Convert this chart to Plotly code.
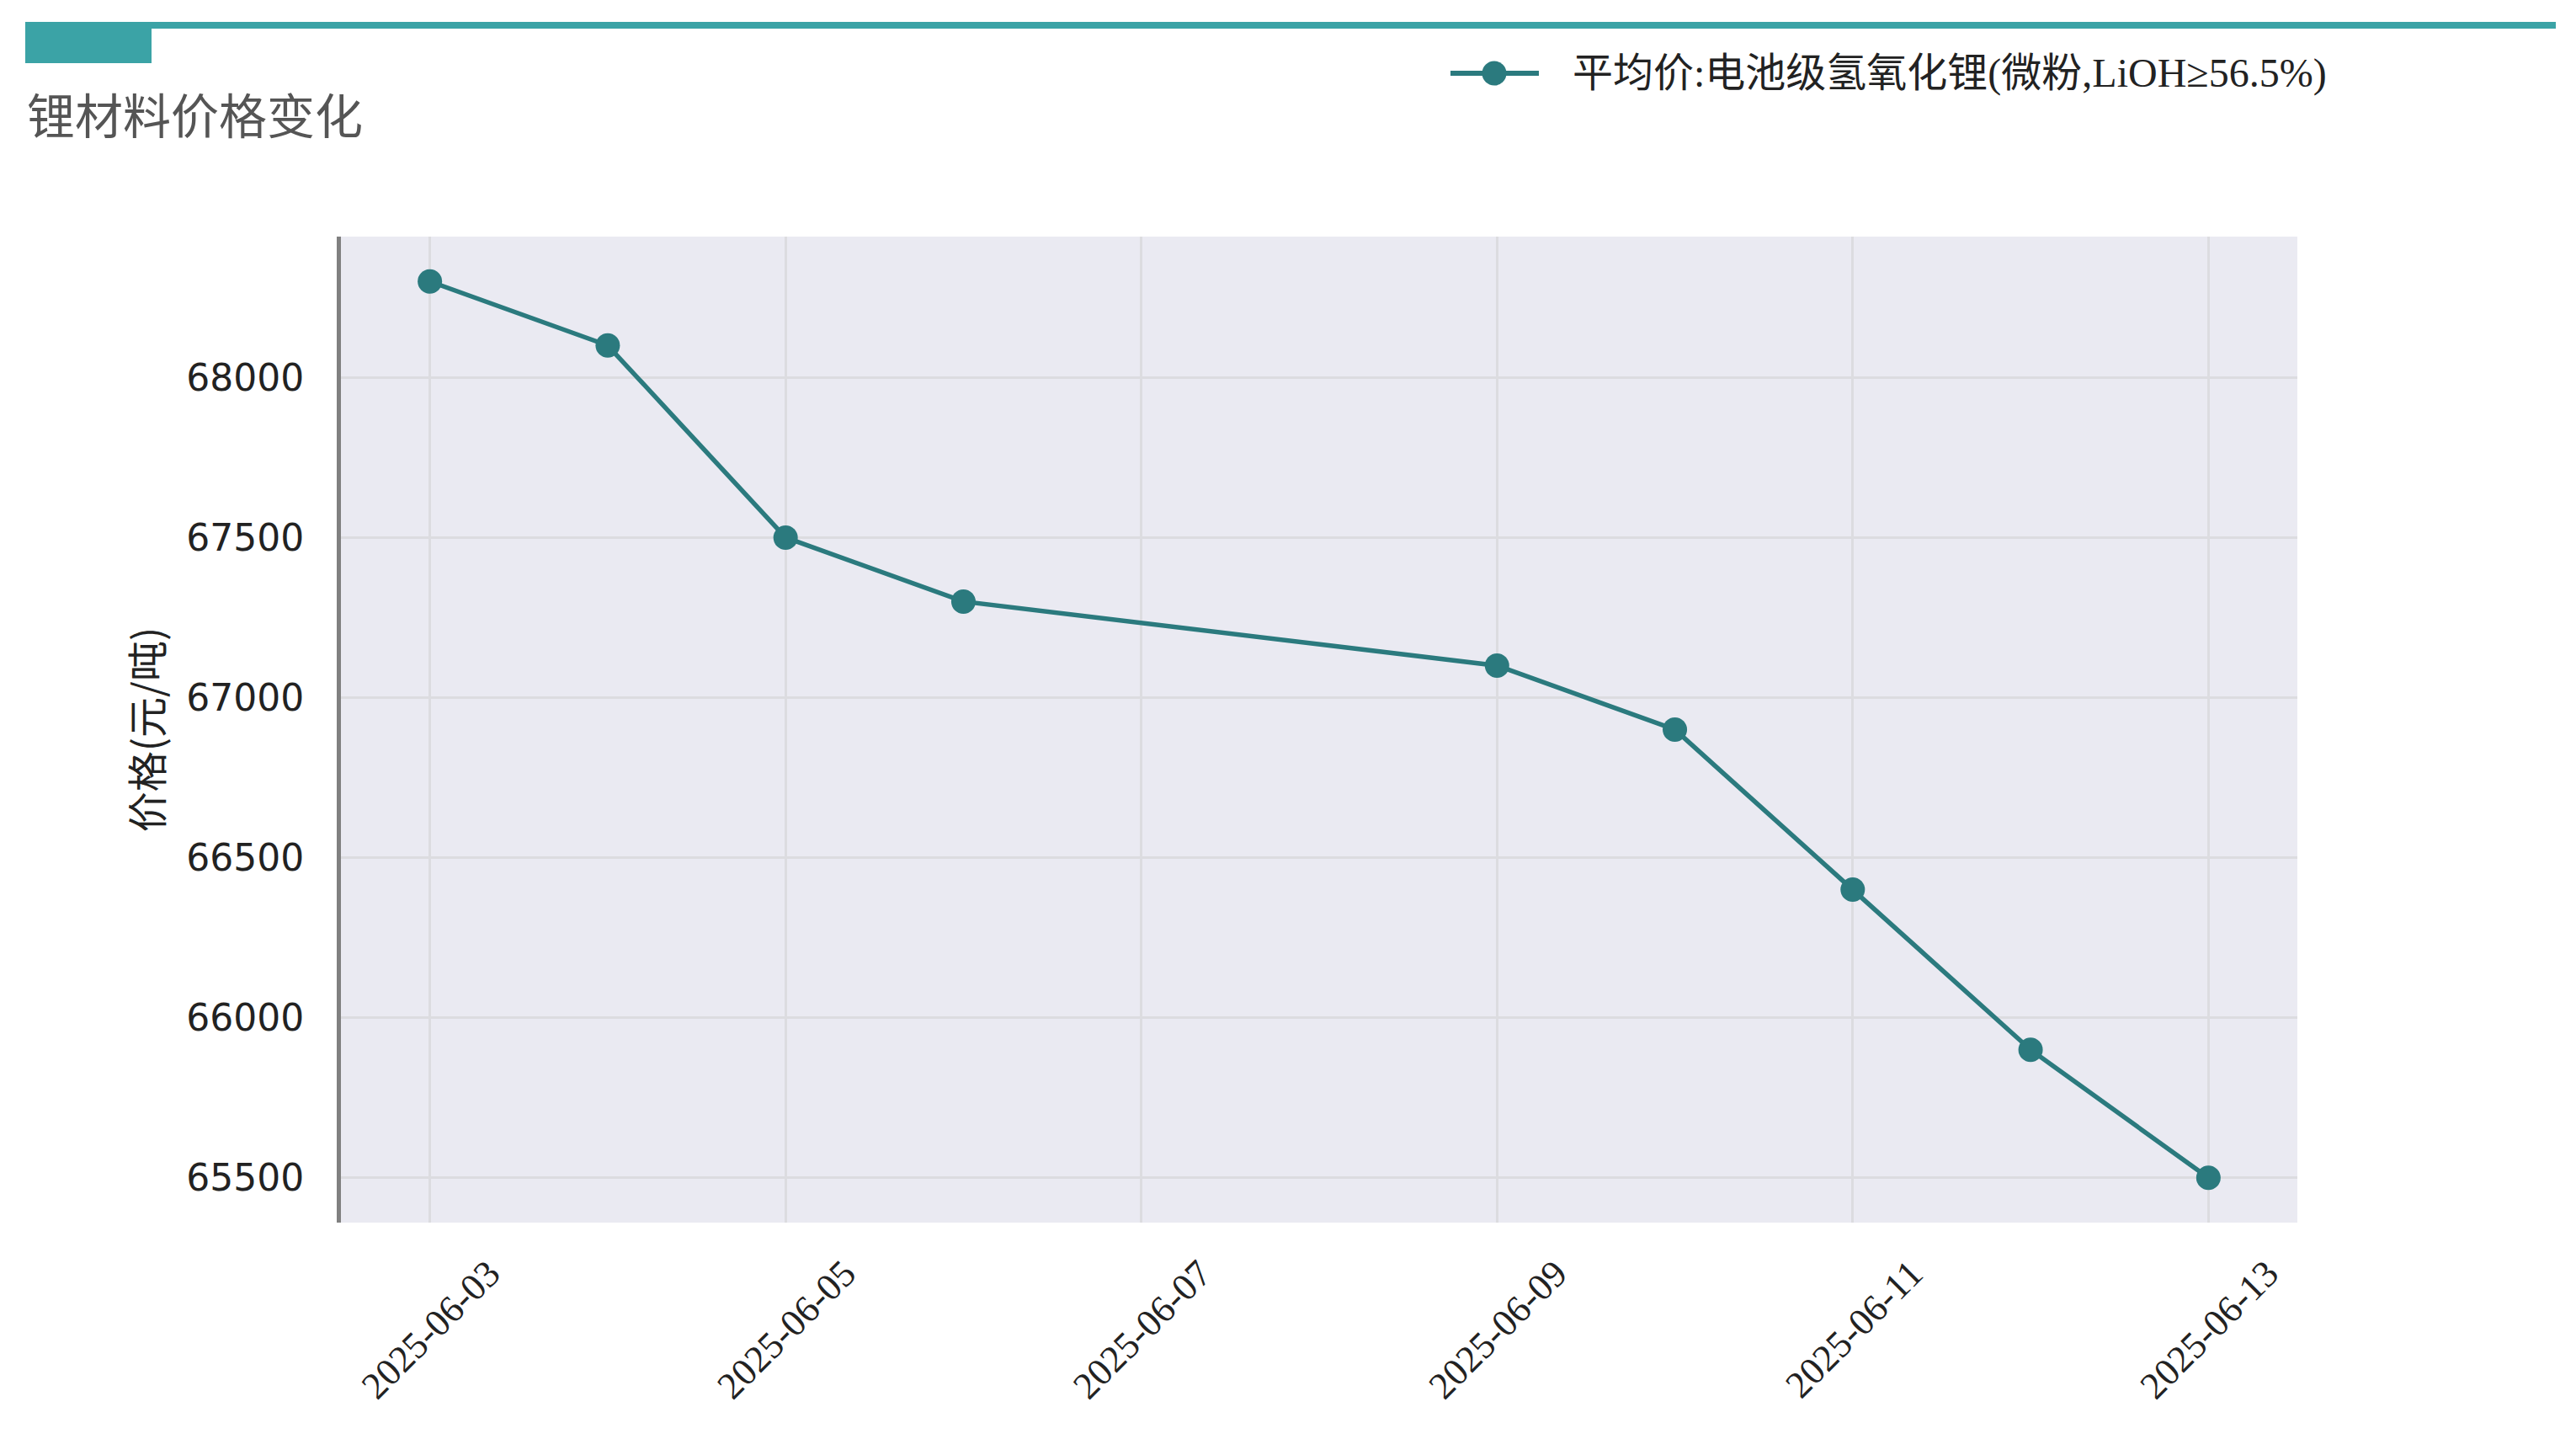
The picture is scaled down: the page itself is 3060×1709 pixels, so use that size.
import plotly.graph_objects as go

dates = ["2025-06-03", "2025-06-04", "2025-06-05", "2025-06-06", "2025-06-09",
         "2025-06-10", "2025-06-11", "2025-06-12", "2025-06-13"]
prices = [68300, 68100, 67500, 67300, 67100, 66900, 66400, 65900, 65500]
series_name = "平均价:电池级氢氧化锂(微粉,LiOH≥56.5%)"
title_text = "锂材料价格变化"
y_title = "价格(元/吨)"
y_ticks = [65500, 66000, 66500, 67000, 67500, 68000]
x_ticks = ["2025-06-03", "2025-06-05", "2025-06-07", "2025-06-09",
           "2025-06-11", "2025-06-13"]

OFF = 8  # page body margin
W, H = 3060 - OFF, 1709 - OFF
# plot area in window pixels
PL, PR, PT, PB = 405, 2729, 281, 1452
L, T = PL - OFF, PT - OFF
R, B = W - (PR - OFF), H - (PB - OFF)
PW, PH = PR - PL, PB - PT

def px(x):
    return (x - PL) / PW

def py(y):
    return (PB - y) / PH

TEAL = "#2B7A7E"
DECOR = "#3BA3A6"
SERIF = "Liberation Serif, Noto Sans CJK SC, serif"
CJK = "Noto Sans CJK SC, sans-serif"

fig = go.Figure()
fig.add_trace(go.Scatter(
    x=dates, y=prices, mode="lines+markers", name=series_name,
    line=dict(color=TEAL, width=5.5),
    marker=dict(color=TEAL, size=29),
    showlegend=False,
))

# legend key (drawn by hand so the symbol matches the reference size)
LEG_Y = 87
legend_shapes = [
    dict(type="line", xref="paper", yref="paper",
         x0=px(1723), x1=px(1828), y0=py(LEG_Y), y1=py(LEG_Y),
         line=dict(color=TEAL, width=6)),
    dict(type="circle", xref="paper", yref="paper",
         x0=px(1775 - 14.5), x1=px(1775 + 14.5),
         y0=py(LEG_Y + 14.5), y1=py(LEG_Y - 14.5),
         fillcolor=TEAL, line=dict(width=0)),
]

fig.update_layout(
    width=W, height=H,
    margin=dict(l=L, r=R, t=T, b=B, autoexpand=False),
    paper_bgcolor="white",
    plot_bgcolor="#EAEAF2",
    xaxis=dict(
        type="date",
        range=["2025-06-02 12:00", "2025-06-13 12:00"],
        tickmode="array",
        tickvals=x_ticks,
        ticktext=x_ticks,
        tickangle=-45,
        tickfont=dict(family=SERIF, size=45, color="#222222"),
        ticks="outside", ticklen=15, tickcolor="rgba(0,0,0,0)",
        ticklabelshift=70,
        showgrid=True, gridcolor="#DCDCE0", gridwidth=3,
        showline=False, zeroline=False,
    ),
    yaxis=dict(
        range=[65360, 68440],
        tickmode="array", tickvals=y_ticks,
        ticktext=[str(v) for v in y_ticks],
        tickfont=dict(family="DejaVu Sans, sans-serif", size=44, color="#222222"),
        ticks="outside", ticklen=30, tickcolor="rgba(0,0,0,0)",
        showgrid=True, gridcolor="#DCDCE0", gridwidth=3,
        showline=True, linecolor="#808080", linewidth=5,
        zeroline=False,
        title=dict(text=y_title, font=dict(family=CJK, size=48, color="#222222"),
                   standoff=14),
    ),
    shapes=[
        dict(type="line", xref="paper", yref="paper",
             x0=px(30), x1=px(3036), y0=py(30), y1=py(30),
             line=dict(color=DECOR, width=8)),
        dict(type="rect", xref="paper", yref="paper",
             x0=px(30), x1=px(180), y0=py(26), y1=py(75),
             fillcolor=DECOR, line=dict(width=0)),
    ] + legend_shapes,
    annotations=[
        dict(text=title_text, xref="paper", yref="paper",
             x=px(30), y=py(134), xanchor="left", yanchor="middle",
             showarrow=False,
             font=dict(family=CJK, size=57, color="#555555")),
        dict(text=series_name, xref="paper", yref="paper",
             x=px(1866), y=py(LEG_Y), xanchor="left", yanchor="middle",
             showarrow=False,
             font=dict(family=SERIF, size=48, color="#222222")),
    ],
)

fig.write_html("out.html")
